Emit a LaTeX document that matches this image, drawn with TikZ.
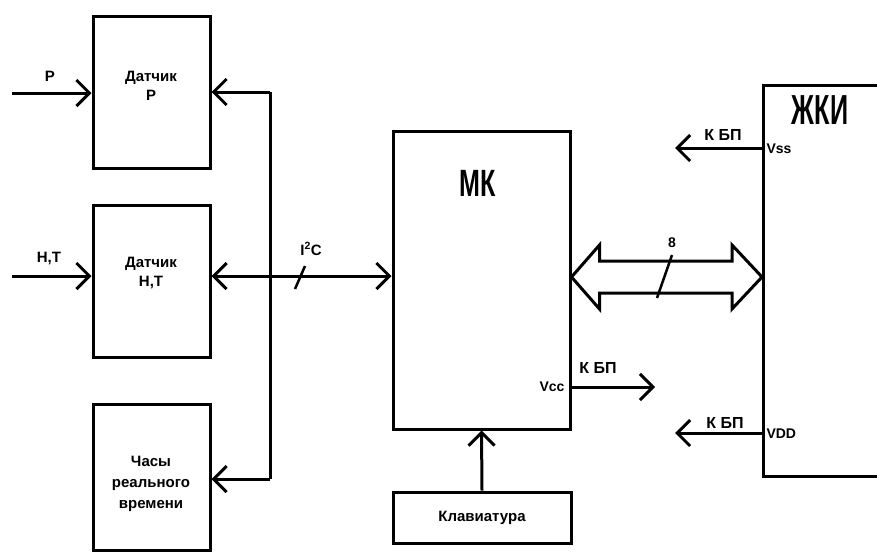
\documentclass[tikz,border=0pt]{standalone}
\usepackage{fontspec}
\setmainfont{Liberation Sans}
\newfontfamily\narrowfont[FakeStretch=0.66]{Liberation Sans}
\newfontfamily\narrowerfont[FakeStretch=0.6]{Liberation Sans}
\usetikzlibrary{arrows.meta,calc}
\begin{document}
\begin{tikzpicture}[x=1pt,y=-1pt,line width=3pt,
  box/.style={draw,line width=3pt,inner sep=0pt,rectangle},
  lbl/.style={font=\bfseries\fontsize{15}{19}\selectfont,align=center,inner sep=0pt},
  small/.style={font=\bfseries\fontsize{14}{16}\selectfont,inner sep=0pt},
  kbp/.style={font=\bfseries\fontsize{16}{18}\selectfont,inner sep=0pt},
  big/.style={font=\narrowfont\bfseries\fontsize{38}{42}\selectfont,inner sep=0pt},
  bigger/.style={font=\narrowerfont\bfseries\fontsize{42}{44}\selectfont,inner sep=0pt},
  conn/.style={-{Straight Barb[length=13pt,width=26pt]}},
  slash/.style={line width=2.5pt}]
\useasboundingbox (0,0) rectangle (877,552);

% blocks
\node[box,minimum width=117pt,minimum height=152pt] (dp)  at (151.5,92) {};
\node[box,minimum width=117pt,minimum height=152pt] (dht) at (151.5,281) {};
\node[box,minimum width=117pt,minimum height=146pt] (rtc) at (151.5,477) {};
\node[box,minimum width=177pt,minimum height=298pt] (mk)  at (481.5,280) {};
\node[box,minimum width=178pt,minimum height=51pt]  (kb)  at (482,517.5) {};
\node[box,minimum width=200pt,minimum height=391pt,anchor=north west] (lcd) at (762,84) {};

% block texts
\node[lbl] (tdp)  at (151,86)  {Датчик\\P};
\node[lbl] (tdht) at (151,273) {Датчик\\H,T};
\node[lbl,font=\bfseries\fontsize{15}{21}\selectfont] (trtc) at (151,484) {Часы\\реального\\времени};
\node[lbl] (tkb)  at (482,518) {Клавиатура};
\node[big] (tmk)  at (478,183) {МК};
\node[bigger] (tlcd) at (820,110) {ЖКИ};

% inputs
\coordinate (pin) at (12,93);
\coordinate (htin) at (12,276);
\draw[conn] (pin) -- (dp.west |- pin);
\draw[conn] (htin) -- (dht.west |- htin);
\node[lbl] (lp) at (50,76) {P};
\node[lbl] (lht) at (49,258) {H,T};

% I2C bus
\coordinate (bt) at (270,92);
\coordinate (bb) at (270,479);
\coordinate (bm) at (270,276);
\draw (bt) -- (bb);
\draw[conn] (bt) -- (dp.east |- bt);
\draw[conn] (bb) -- (rtc.east |- bb);
\draw[conn] (bm) -- (dht.east |- bm);
\draw[conn] (bm) -- (mk.west |- bm);
\coordinate (s1a) at (295,289);
\coordinate (s1b) at (305,266);
\draw[slash] (s1a) -- (s1b);
\node[lbl] (li2c) at (311,249) {I\textsuperscript{2}C};

% 8-bit bus
\coordinate (yb) at (0,277);
\coordinate (L) at (mk.east |- yb);
\coordinate (R) at (lcd.west |- yb);
\draw[line join=miter] (L) -- ($(L)+(28,-32)$) -- ($(L)+(28,-16)$) -- ($(R)+(-30,-16)$)
  -- ($(R)+(-30,-32)$) -- (R) -- ($(R)+(-30,32)$) -- ($(R)+(-30,16)$)
  -- ($(L)+(28,16)$) -- ($(L)+(28,32)$) -- cycle;
\coordinate (s2a) at (657,298);
\coordinate (s2b) at (672,255);
\draw[slash] (s2a) -- (s2b);
\node[small] (l8) at (672,243) {8};

% power
\coordinate (vccend) at (655,387);
\draw[conn] (mk.east |- vccend) -- (vccend);
\node[kbp] (lkbp1) at (598,368) {К БП};
\node[small,anchor=east] (lvcc) at (566,387) {Vcc};

\coordinate (vssend) at (675,148);
\draw[conn] (lcd.west |- vssend) -- (vssend);
\node[kbp] (lkbp2) at (723,135) {К БП};
\node[small,anchor=west] (lvss) at (765,149) {Vss};

\coordinate (vddend) at (675,433);
\draw[conn] (lcd.west |- vddend) -- (vddend);
\node[kbp] (lkbp3) at (725,423) {К БП};
\node[small,anchor=west] (lvdd) at (765,434) {VDD};

% keyboard
\draw[conn] (kb.north) -- (mk.south);
\end{tikzpicture}
\end{document}
